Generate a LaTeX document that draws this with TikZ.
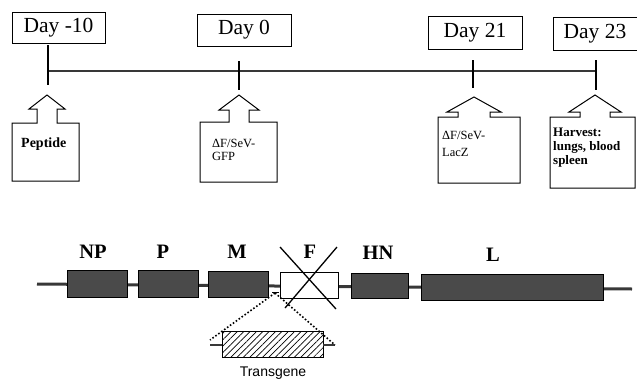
\documentclass[tikz,border=0pt]{standalone}
\usepackage{fontspec}
\setmainfont{Liberation Serif}
\newfontfamily\labelsans{Liberation Sans}
\usetikzlibrary{patterns.meta}
\definecolor{genefill}{HTML}{4A4A4A}
\definecolor{axisgray}{HTML}{383838}

% Open block arrow standing on a box:
% #1 tip x, #2 tip y, #3 head base y, #4 head half width, #5 shaft half width,
% #6 box left, #7 box right, #8 box top, #9 box bottom
\newcommand\upcallout[9]{%
  \draw[calloutline] (#6,#9) -- (#6,#8) -- (#1-#5,#8) -- (#1-#5,#3) -- (#1-#4,#3)
    -- (#1,#2) -- (#1+#4,#3) -- (#1+#5,#3) -- (#1+#5,#8) -- (#7,#8) -- (#7,#9) -- cycle;}

\begin{document}
\begin{tikzpicture}[x=1pt,y=-1pt,
  daybox/.style={draw, line width=0.9pt, inner sep=0pt, font=\fontsize{21.5}{24}\selectfont},
  axis/.style={line width=2.6pt, axisgray},
  tickmark/.style={line width=2.6pt, black},
  calloutline/.style={line width=1pt, line join=miter},
  note/.style={anchor=base west, inner sep=0pt, font=\fontsize{12.5}{14}\selectfont},
  boldnote/.style={note, font=\fontsize{13}{15}\selectfont\bfseries},
  backbone/.style={line width=3pt, axisgray},
  gene/.style={draw=black, fill=genefill, line width=0.8pt, inner sep=0pt},
  genelabel/.style={anchor=base, inner sep=0pt, font=\fontsize{20.5}{23}\selectfont\bfseries},
  crossout/.style={line width=1.3pt, black},
  dotline/.style={line width=1.6pt, dash pattern=on 1.6pt off 2pt, black},
]
\useasboundingbox (0,0) rectangle (637,378);

% ---------- timeline ----------
\node[daybox, minimum width=93pt, minimum height=31pt] (dm10) at (58.5,28) {Day -10};
\node[daybox, minimum width=94pt, minimum height=32pt] (d0)   at (244,30) {Day 0};
\node[daybox, minimum width=94pt, minimum height=33pt] (d21)  at (475,32.5) {Day 21};
\node[daybox, minimum width=84pt, minimum height=33pt] (d23)  at (595,33.5) {Day 23};

\coordinate (tA) at (48,71);
\coordinate (tB) at (596,71);
\draw[axis] (tA) -- (tB);

\coordinate (k1a) at (48,45);  \coordinate (k1b) at (48,85);
\coordinate (k2a) at (239,61); \coordinate (k2b) at (239,90);
\coordinate (k3a) at (473,60); \coordinate (k3b) at (473,88);
\coordinate (k4a) at (596,60); \coordinate (k4b) at (596,90);
\draw[tickmark] (k1a) -- (k1b);
\draw[tickmark] (k2a) -- (k2b);
\draw[tickmark] (k3a) -- (k3b);
\draw[tickmark] (k4a) -- (k4b);

% ---------- events ----------
\upcallout{47}{95}{109}{18}{10}{12}{79}{123}{181}
\node[boldnote, font=\fontsize{14}{16}\selectfont\bfseries] (pep) at (21,147) {Peptide};

\upcallout{239}{95}{110}{20}{10}{200}{277}{122}{182}
\node[note] (gfp1) at (212,147) {ΔF/SeV-};
\node[note] (gfp2) at (212,160) {GFP};

\upcallout{474}{97}{112}{27}{16}{438}{520}{117}{183}
\node[note] (lac1) at (442,139) {ΔF/SeV-};
\node[note] (lac2) at (442,156) {LacZ};

\upcallout{595}{95}{112}{26}{15}{550}{635}{117}{188}
\node[boldnote] (hv1) at (553,136) {Harvest:};
\node[boldnote] (hv2) at (553,150) {lungs, blood};
\node[boldnote] (hv3) at (553,164) {spleen};

% ---------- genome ----------
\coordinate (gA) at (37,284);
\coordinate (gB) at (632,289);
\draw[backbone] (gA) -- (gB);

\node[gene, minimum width=60pt, minimum height=27pt] (np) at (97,283.5) {};
\node[gene, minimum width=60pt, minimum height=27pt] (p)  at (168,283.5) {};
\node[gene, minimum width=60pt, minimum height=26pt] (m)  at (238,284) {};
\node[draw=black, fill=white, line width=0.8pt, inner sep=0pt,
      minimum width=58pt, minimum height=26pt] (f) at (309,285) {};
\node[gene, minimum width=57pt, minimum height=25pt] (hn) at (379.5,285.5) {};
\node[gene, minimum width=182pt, minimum height=26pt] (l) at (512,287) {};

\node[genelabel] (npl) at (93,258) {NP};
\node[genelabel] (pl)  at (163,258) {P};
\node[genelabel] (ml)  at (237,258) {M};
\node[genelabel] (fl)  at (310,258) {F};
\node[genelabel] (hnl) at (378,259) {HN};
\node[genelabel] (ll)  at (493,261) {L};

% F gene crossed out
\coordinate (x1a) at (280,247); \coordinate (x1b) at (336,309);
\coordinate (x2a) at (337,247); \coordinate (x2b) at (285,308);
\draw[crossout] (x1a) -- (x1b);
\draw[crossout] (x2a) -- (x2b);

% transgene insert
\coordinate (ins) at (275,293);
\draw[line width=1.5pt] (272,292.5) -- (279,292.5);
\node[draw=black, line width=0.7pt, inner sep=0pt, minimum width=101pt, minimum height=26pt,
      pattern={Lines[angle=45,distance=4.5pt,line width=0.7pt]}] (tg) at (272.5,344) {};
\coordinate (stL) at (210,345);
\coordinate (stR) at (335,345);
\draw[line width=1.8pt, axisgray] (stL) -- (tg.west |- stL);
\draw[line width=1.8pt, axisgray] (tg.east |- stR) -- (stR);
\draw[dotline] (ins) -- (210,340);
\draw[dotline] (ins) -- (stR);
\node[anchor=base, inner sep=0pt, font=\labelsans\fontsize{14}{16}\selectfont] (tgl) at (273,376) {Transgene};
\end{tikzpicture}
\end{document}
